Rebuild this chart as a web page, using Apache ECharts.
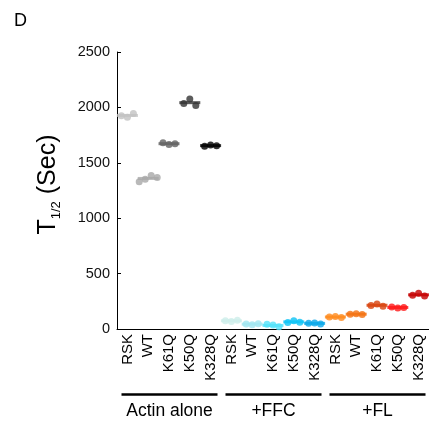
<!DOCTYPE html>
<html><head><meta charset="utf-8">
<script src="https://cdn.jsdelivr.net/npm/echarts@6/dist/echarts.min.js"></script>
<style>html,body{margin:0;padding:0;background:#fff}#c{width:429px;height:421px}</style>
</head><body><div id="c"></div><script>
// ---- data ----
const categories = ['RSK','WT','K61Q','K50Q','K328Q','RSK','WT','K61Q','K50Q','K328Q','RSK','WT','K61Q','K50Q','K328Q'];
const groups = ['Actin alone','+FFC','+FL'];
const groupSize = 5;
const actinAlone = [[1925,1912,1945],[1330,1352,1385,1368],[1680,1665,1672],[2035,2075,2018],[1650,1660,1655]];
const plusFFC = [[75,68,80],[45,38,48],[42,35,20],[58,75,60],[52,55,45]];
const plusFL = [[108,113,104],[133,138,130],[212,226,205],[198,190,195],[305,322,298]];
const yTicks = [0,500,1000,1500,2000,2500];
const colors = ['#c2c2c2','#a8a8a8','#616161','#333333','#000000',
                '#cdeeea','#a0e6f0','#52e2fa','#0cc3f5','#0aa8e8',
                '#ff8a1c','#f4700f','#d8420c','#ff1616','#c40000'];

const replicates = actinAlone.concat(plusFFC, plusFL);
const FONT = 'Liberation Sans, Arial, sans-serif';

const dotData = [];
const meanData = [];
replicates.forEach((vals, i) => {
  const n = vals.length;
  vals.forEach((v, k) => {
    const off = (k - (n - 1) / 2) * 6;
    dotData.push({value: [i, v], symbolOffset: [off, 0], itemStyle: {color: colors[i]}});
  });
  const m = vals.reduce((a, b) => a + b, 0) / n;
  meanData.push({value: [i, m], itemStyle: {color: colors[i]}});
});

const chart = echarts.init(document.getElementById('c'), null, {renderer: 'canvas'});
chart.setOption({
  animation: false,
  backgroundColor: '#fff',
  title: {text: 'D', left: 9, top: 7, textStyle: {fontFamily: FONT, fontSize: 18, fontWeight: 'normal', color: '#000'}},
  grid: {left: 117, right: 0, top: 52, bottom: 92, containLabel: false},
  xAxis: {
    type: 'category', data: categories,
    axisLine: {lineStyle: {color: '#000', width: 1}},
    axisTick: {inside: true, length: 4, lineStyle: {color: '#000'}},
    axisLabel: {rotate: 90, margin: 5, interval: 0, fontFamily: FONT, fontSize: 15, color: '#000'},
    splitLine: {show: false}
  },
  yAxis: {
    type: 'value', min: yTicks[0], max: yTicks[yTicks.length - 1], interval: yTicks[1] - yTicks[0],
    axisLine: {show: true, lineStyle: {color: '#000', width: 1}},
    axisTick: {show: true, inside: true, length: 4, lineStyle: {color: '#000'}},
    axisLabel: {margin: 7, fontFamily: FONT, fontSize: 14.5, color: '#111', formatter: v => String(v)},
    splitLine: {show: false}
  },
  series: [
    {type: 'scatter', symbol: 'rect', symbolSize: [21, 3], data: meanData, z: 2, silent: true},
    {type: 'scatter', symbol: 'circle', symbolSize: 7, data: dotData, z: 3, silent: true}
  ]
});

// group brackets under the category labels
const p0 = chart.convertToPixel({xAxisIndex: 0}, 0);
const p1 = chart.convertToPixel({xAxisIndex: 0}, 1);
const bw = p1 - p0;
const yTop = chart.convertToPixel({yAxisIndex: 0}, yTicks[yTicks.length - 1]);
const yBot = chart.convertToPixel({yAxisIndex: 0}, yTicks[0]);
const gfx = [];
groups.forEach((g, gi) => {
  const a = chart.convertToPixel({xAxisIndex: 0}, gi * groupSize) - bw / 2 + 4.5;
  const b = chart.convertToPixel({xAxisIndex: 0}, gi * groupSize + groupSize - 1) + bw / 2 - 3.5;
  gfx.push({type: 'line', shape: {x1: a, y1: 394.5, x2: b, y2: 394.5}, style: {stroke: '#000', lineWidth: 2.7}});
  gfx.push({type: 'text', x: (a + b) / 2, y: 411, style: {text: g, fontFamily: FONT, fontSize: 17.5, fill: '#000', align: 'center', verticalAlign: 'middle'}});
});
// y-axis title with subscript
gfx.push({
  type: 'text', x: 46, y: (yTop + yBot) / 2 - 6, rotation: Math.PI / 2,
  style: {
    text: '{a|T}{b|1/2}{a| (Sec)}', align: 'center', verticalAlign: 'middle',
    rich: {
      a: {fontFamily: FONT, fontSize: 25, fill: '#000', lineHeight: 30, verticalAlign: 'bottom'},
      b: {fontFamily: FONT, fontSize: 13, fill: '#000', lineHeight: 30, verticalAlign: 'bottom', padding: [0, 0, -2, 0]}
    }
  }
});
chart.setOption({graphic: gfx});
</script></body></html>
